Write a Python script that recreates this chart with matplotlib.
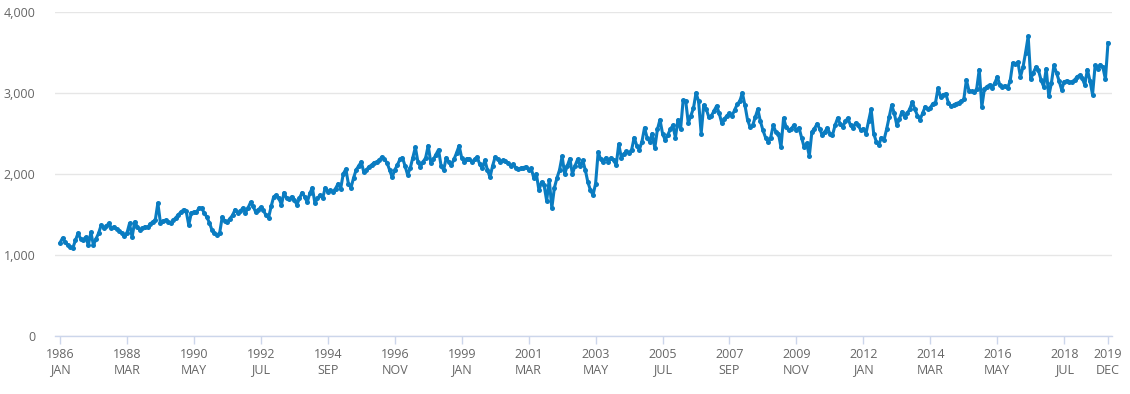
import matplotlib
matplotlib.use("Agg")
import matplotlib.pyplot as plt
import numpy as np

# Monthly values, Jan 1986 .. Dec 2019
vals_1986_1993 = [
    1150, 1210, 1160, 1120, 1100, 1090, 1180, 1270, 1200, 1190, 1220, 1120,  # 1986
    1280, 1120, 1200, 1270, 1370, 1330, 1360, 1390, 1330, 1350, 1320, 1300,  # 1987
    1270, 1230, 1270, 1390, 1220, 1410, 1350, 1310, 1330, 1350, 1340, 1380,  # 1988
    1410, 1430, 1640, 1400, 1420, 1430, 1410, 1400, 1430, 1460, 1500, 1530,  # 1989
    1560, 1540, 1370, 1520, 1530, 1530, 1580, 1580, 1520, 1470, 1400, 1310,  # 1990
    1270, 1250, 1270, 1470, 1420, 1410, 1450, 1490, 1560, 1520, 1540, 1580,  # 1991
    1520, 1580, 1650, 1600, 1530, 1560, 1590, 1550, 1490, 1460, 1600, 1720,  # 1992
    1740, 1700, 1620, 1770, 1700, 1690, 1720, 1680, 1620, 1700, 1770, 1720,  # 1993
]
vals_1994_2001 = [
    1650, 1760, 1830, 1640, 1700, 1740, 1700, 1830, 1780, 1800, 1780, 1820,  # 1994
    1880, 1820, 2000, 2060, 1880, 1830, 1950, 2050, 2100, 2150, 2020, 2050,  # 1995
    2090, 2110, 2140, 2150, 2170, 2210, 2180, 2140, 2050, 1960, 2050, 2110,  # 1996
    2180, 2200, 2100, 1990, 2070, 2200, 2330, 2150, 2090, 2150, 2200, 2350,  # 1997
    2140, 2180, 2240, 2300, 2100, 2050, 2200, 2150, 2110, 2180, 2260, 2350,  # 1998
    2200, 2150, 2190, 2180, 2150, 2180, 2210, 2120, 2070, 2170, 2050, 1960,  # 1999
    2100, 2210, 2180, 2150, 2170, 2160, 2130, 2100, 2120, 2080, 2060, 2070,  # 2000
    2080, 2090, 2050, 2070, 1950, 2000, 1800, 1900, 1860, 1670, 1930, 1580,  # 2001
]
vals_2002_2009 = [
    1830, 1950, 2050, 2220, 2000, 2100, 2190, 2000, 2100, 2180, 2100, 2170,  # 2002
    2050, 1900, 1800, 1740, 1880, 2270, 2180, 2150, 2200, 2150, 2200, 2170,  # 2003
    2110, 2370, 2200, 2250, 2280, 2260, 2300, 2450, 2350, 2300, 2400, 2570,  # 2004
    2450, 2400, 2500, 2320, 2550, 2670, 2500, 2420, 2480, 2550, 2600, 2450,  # 2005
    2670, 2550, 2910, 2900, 2630, 2720, 2810, 3000, 2900, 2500, 2850, 2800,  # 2006
    2700, 2720, 2780, 2840, 2750, 2630, 2680, 2720, 2750, 2720, 2790, 2860,  # 2007
    2900, 3000, 2850, 2670, 2580, 2600, 2700, 2800, 2650, 2540, 2450, 2400,  # 2008
    2450, 2600, 2520, 2500, 2330, 2690, 2580, 2540, 2560, 2600, 2540, 2570,  # 2009
]
vals_2010_2019 = [
    2450, 2330, 2380, 2220, 2520, 2560, 2620, 2560, 2480, 2520, 2570, 2500,  # 2010
    2480, 2600, 2690, 2620, 2580, 2650, 2690, 2600, 2570, 2630, 2600, 2540,  # 2011
    2560, 2500, 2650, 2800, 2500, 2400, 2360, 2450, 2420, 2550, 2700, 2850,  # 2012
    2750, 2600, 2680, 2770, 2700, 2750, 2800, 2890, 2800, 2720, 2670, 2750,  # 2013
    2830, 2800, 2820, 2870, 2880, 3060, 2950, 2980, 2990, 2880, 2840, 2850,  # 2014
    2870, 2880, 2900, 2920, 3160, 3030, 3020, 3010, 3050, 3290, 2830, 3050,  # 2015
    3080, 3100, 3060, 3120, 3200, 3100, 3080, 3090, 3060, 3150, 3370, 3360,  # 2016
    3380, 3200, 3320, 3500, 3700, 3170, 3250, 3320, 3280, 3160, 3080, 3300,  # 2017
    2960, 3120, 3340, 3250, 3150, 3040, 3140, 3150, 3130, 3140, 3160, 3200,  # 2018
    3220, 3180, 3100, 3290, 3150, 2980, 3340, 3300, 3350, 3320, 3170, 3620,  # 2019
]

tick_years = ["1986", "1988", "1990", "1992", "1994", "1996", "1999", "2001",
              "2003", "2005", "2007", "2009", "2012", "2014", "2016", "2018", "2019"]
tick_months = ["JAN", "MAR", "MAY", "JUL", "SEP", "NOV", "JAN", "MAR",
               "MAY", "JUL", "SEP", "NOV", "JAN", "MAR", "MAY", "JUL", "DEC"]
y_ticks = [0, 1000, 2000, 3000, 4000]

values = np.array(vals_1986_1993 + vals_1994_2001 + vals_2002_2009 + vals_2010_2019)
n = len(values)
idx = np.arange(n)
month_names = ["JAN", "FEB", "MAR", "APR", "MAY", "JUN", "JUL", "AUG", "SEP", "OCT", "NOV", "DEC"]
start_year = 1986
labels_all = [(str(start_year + i // 12), month_names[i % 12]) for i in idx]
tick_pos = []
for yy, mm in zip(tick_years, tick_months):
    tick_pos.append(labels_all.index((yy, mm)))

plt.rcParams['font.family'] = ['Open Sans', 'DejaVu Sans']

W, H = 1130, 394
fig = plt.figure(figsize=(W / 100, H / 100), dpi=100)
ax = fig.add_axes([55 / W, 1 - 336 / H, (1112 - 55) / W, (336 - 12) / H])

line_color = "#0a7cc1"
ax.plot(idx, values, color=line_color, lw=2.2, marker="o", markersize=3.6,
        markeredgewidth=0, solid_joinstyle="round", zorder=3)

px_per = (1108 - 60) / (n - 1)
ax.set_xlim(-5 / px_per, (n - 1) + 4 / px_per)
ax.set_ylim(0, 4000)

ax.set_yticks(y_ticks)
ax.set_yticklabels([f"{v:,}" for v in y_ticks])
ax.yaxis.grid(True, color="#e6e6e6", lw=1)
ax.set_axisbelow(True)
ax.tick_params(axis="y", length=0, pad=14, labelsize=9, labelcolor="#666666")

ax.set_xticks(tick_pos)
ax.set_xticklabels([f"{y}\n{m}" for y, m in zip(tick_years, tick_months)])
ax.tick_params(axis="x", length=6, width=1, color="#ccd6eb", labelsize=9,
               labelcolor="#666666", pad=3)

for s in ["top", "right", "left"]:
    ax.spines[s].set_visible(False)
ax.spines["bottom"].set_color("#ccd6eb")
ax.spines["bottom"].set_linewidth(1)

fig.savefig("out.png", dpi=100)
